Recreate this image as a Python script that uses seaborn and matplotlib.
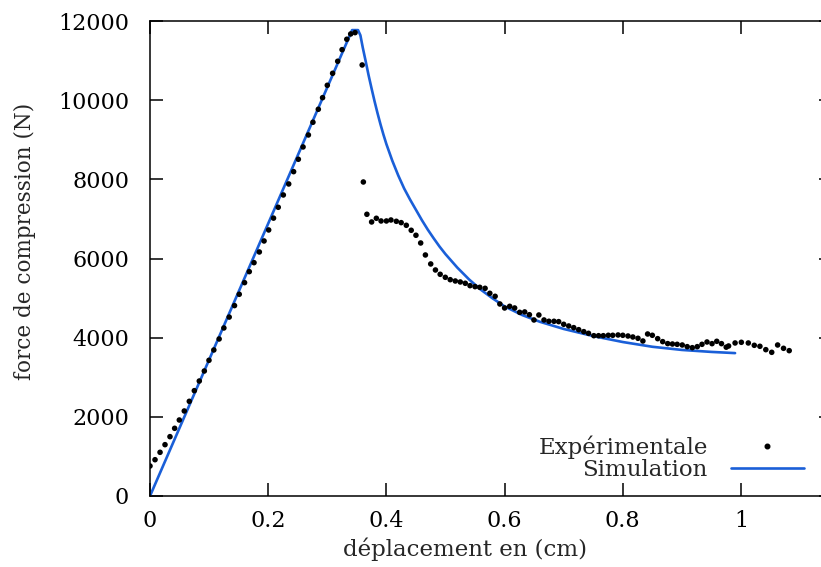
import numpy as np
import pandas as pd
import matplotlib
matplotlib.use("Agg")
import matplotlib.pyplot as plt
import seaborn as sns

# experimental points (displacement cm, force N)
exp_x = [0.000, 0.0085, 0.017, 0.0254, 0.0338, 0.0417, 0.0496, 0.058, 0.0665, 0.075,
         0.0834, 0.0919, 0.0998, 0.108, 0.117, 0.125, 0.134, 0.143, 0.151, 0.160,
         0.168, 0.176, 0.185, 0.193, 0.2008, 0.209, 0.217, 0.2256, 0.2347, 0.243,
         0.251, 0.259, 0.268, 0.2757, 0.2848, 0.292, 0.300, 0.309, 0.3176, 0.325,
         0.333, 0.3396, 0.347, 0.359, 0.361, 0.367, 0.375, 0.383, 0.391, 0.400,
         0.4077, 0.4168, 0.425, 0.4337, 0.442, 0.450, 0.458, 0.466, 0.475, 0.483,
         0.491, 0.4997, 0.508, 0.5166, 0.525, 0.5335, 0.5415, 0.550, 0.558, 0.567,
         0.575, 0.584, 0.592, 0.600, 0.6086, 0.617, 0.6255, 0.634, 0.642, 0.6497,
         0.658, 0.6667, 0.675, 0.6836, 0.6915, 0.700, 0.7085, 0.717, 0.7254, 0.734,
         0.742, 0.751, 0.759, 0.767, 0.7755, 0.783, 0.792, 0.800, 0.8088, 0.817,
         0.8257, 0.834, 0.842, 0.850, 0.859, 0.8675, 0.876, 0.884, 0.892, 0.9006,
         0.909, 0.9176, 0.926, 0.934, 0.9425, 0.951, 0.959, 0.967, 0.975, 0.979,
         0.990, 1.0006, 1.0124, 1.0225, 1.032, 1.042, 1.052, 1.062, 1.072, 1.0816]
exp_f = [758, 917, 1104, 1297, 1499, 1710, 1920, 2148, 2392, 2661,
         2905, 3158, 3428, 3689, 3967, 4245, 4520, 4810, 5096, 5390,
         5668, 5895, 6165, 6443, 6721, 7020, 7294, 7605, 7883, 8194,
         8507, 8818, 9121, 9442, 9770, 10063, 10376, 10679, 10983, 11276,
         11539, 11673, 11706, 10889, 7933, 7117, 6923, 7016, 6948, 6948,
         6973, 6940, 6906, 6839, 6713, 6587, 6392, 6089, 5862, 5710,
         5601, 5525, 5465, 5432, 5407, 5374, 5314, 5289, 5272, 5247,
         5121, 5045, 4851, 4750, 4792, 4750, 4640, 4650, 4580, 4447,
         4573, 4447, 4414, 4414, 4405, 4338, 4295, 4253, 4202, 4152,
         4110, 4050, 4050, 4050, 4060, 4060, 4068, 4060, 4042, 4017,
         3984, 3916, 4093, 4060, 3975, 3900, 3850, 3840, 3832, 3815,
         3773, 3747, 3773, 3832, 3891, 3849, 3908, 3849, 3760, 3790,
         3866, 3883, 3866, 3807, 3782, 3697, 3630, 3815, 3731, 3672]

# simulation curve
sim_x = [0.0, 0.342, 0.352, 0.356, 0.360, 0.365, 0.370, 0.375, 0.380, 0.385,
         0.390, 0.395, 0.400, 0.410, 0.420, 0.430, 0.440, 0.450, 0.460, 0.470,
         0.480, 0.490, 0.500, 0.520, 0.540, 0.560, 0.580, 0.600, 0.630, 0.660,
         0.700, 0.750, 0.800, 0.850, 0.900, 0.950, 0.990]
sim_f = [0, 11770, 11770, 11640, 11330, 10980, 10620, 10290, 9970, 9670,
         9390, 9130, 8890, 8470, 8100, 7770, 7490, 7230, 6970, 6730,
         6510, 6300, 6110, 5770, 5470, 5210, 4990, 4790, 4570, 4400,
         4220, 4040, 3890, 3770, 3690, 3640, 3610]

exp_df = pd.DataFrame({"x": exp_x, "F": exp_f})
sim_df = pd.DataFrame({"x": sim_x, "F": sim_f})

sns.set_style("ticks")
plt.rcParams["font.family"] = ["DejaVu Serif"]
fs = 16

fig = plt.figure(figsize=(8.21, 5.67), dpi=100)
ax = fig.add_axes([150/821, 71/567, 682/821, 475/567])

sns.lineplot(data=sim_df, x="x", y="F", ax=ax, color="#1a5fd8", lw=1.9,
             sort=False, legend=False)
sns.scatterplot(data=exp_df, x="x", y="F", ax=ax, color="black", s=16,
                edgecolor="none", legend=False, zorder=3)

ax.set_xlim(0, 1.154)
ax.set_ylim(0, 12000)
ax.set_xticks([0, 0.2, 0.4, 0.6, 0.8, 1])
ax.set_xticklabels(["0", "0.2", "0.4", "0.6", "0.8", "1"])
ax.set_yticks(range(0, 12001, 2000))
for s in ax.spines.values():
    s.set_linewidth(1.1)
    s.set_color("black")
ax.spines["right"].set_visible(False)
ax.tick_params(direction="in", top=True, right=True, length=9.5, width=1.1,
               labelsize=fs, colors="black")
ax.tick_params(axis="y", pad=15)
ax.tick_params(axis="x", pad=10)

ax.set_xlabel("déplacement en (cm)", fontsize=16.5)
ax.set_ylabel("force de compression (N)", fontsize=15.5)
ax.xaxis.label.set_va("center")
ax.xaxis.set_label_coords(0.462, -0.112)
ax.yaxis.label.set_va("center")
ax.yaxis.set_label_coords(-0.184, 0.537)

# gnuplot-style key: right-aligned text, sample on the right
h_exp = plt.Line2D([], [], ls="none", marker="o", ms=3.3, color="black")
h_sim = plt.Line2D([], [], color="#1a5fd8", lw=1.9)
common = dict(frameon=False, markerfirst=False, borderpad=0, borderaxespad=0,
              handlelength=3.2, handletextpad=1.0, fontsize=16.5, loc="center right",
              numpoints=1)
leg1 = ax.legend([h_exp], ["Expérimentale"], bbox_to_anchor=(0.959, 0.103), **common)
ax.add_artist(leg1)
ax.legend([h_sim], ["Simulation"], bbox_to_anchor=(0.959, 0.055), **common)

fig.savefig("out.png", dpi=100)
